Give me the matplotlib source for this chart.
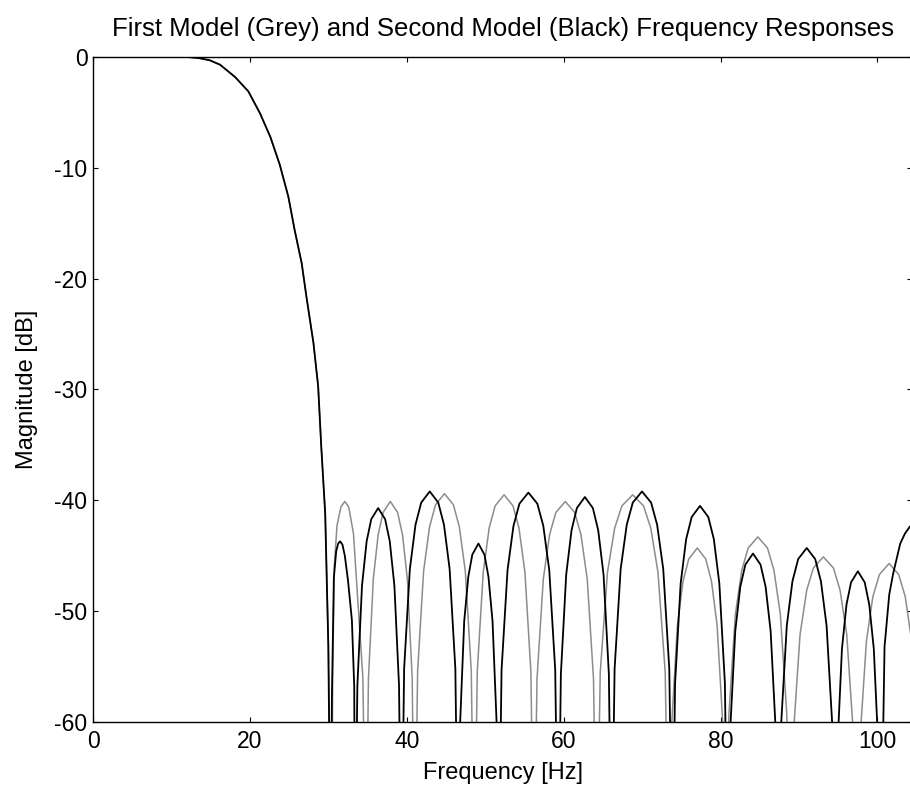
import matplotlib
matplotlib.use("Agg")
import matplotlib.pyplot as plt

# passband, shared by both models (Hz, dB)
pass_f = [3.7, 6.0, 8.0, 10.0, 12.0, 13.5, 14.9, 16.2, 18.1, 19.8, 21.3, 22.6,
          23.8, 24.9, 25.7, 26.6, 27.2, 28.1, 28.7, 29.1, 29.6, 30.0]
pass_db = [0.0, 0.0, 0.0, 0.0, 0.0, -0.1, -0.3, -0.7, -1.8, -3.1, -5.1, -7.2,
           -9.7, -12.6, -15.6, -18.6, -21.6, -25.8, -29.7, -35.2, -41.2, -53.2]

# first model (grey) stopband lobes, one row per lobe
grey_f = [30.4, 30.55, 30.75, 31.1, 31.6, 32.1, 32.6, 33.2, 33.8, 34.4,
          34.8, 35.11, 35.73, 36.35, 36.97, 37.9, 38.83, 39.45, 40.07, 40.69,
          41.0, 41.38, 42.14, 42.9, 43.66, 44.8, 45.94, 46.7, 47.46, 48.22,
          48.6, 48.98, 49.74, 50.5, 51.26, 52.4, 53.54, 54.3, 55.06, 55.82,
          56.2, 56.6, 57.4, 58.2, 59.0, 60.2, 61.4, 62.2, 63.0, 63.8,
          64.2, 64.66, 65.58, 66.5, 67.42, 68.8, 70.18, 71.1, 72.02, 72.94,
          73.4, 73.76, 74.49, 75.21, 75.94, 77.03, 78.11, 78.84, 79.56, 80.29,
          80.65, 81.06, 81.88, 82.7, 83.52, 84.75, 85.98, 86.8, 87.62, 88.44,
          88.85, 89.28, 90.13, 90.98, 91.83, 93.1, 94.38, 95.23, 96.08, 96.93,
          97.35, 97.76, 98.59, 99.41, 100.24, 101.48, 102.71, 103.54, 104.36,
          105.19, 105.6]
grey_db = [-75, -56.0, -46.0, -42.3, -40.6, -40.1, -40.6, -43.0, -49.5, -56.0,
           -75, -56.1, -47.1, -43.1, -41.1, -40.1, -41.1, -43.1, -47.1, -56.1,
           -75, -55.4, -46.4, -42.4, -40.4, -39.4, -40.4, -42.4, -46.4, -55.4,
           -75, -55.5, -46.5, -42.5, -40.5, -39.5, -40.5, -42.5, -46.5, -55.5,
           -75, -56.1, -47.1, -43.1, -41.1, -40.1, -41.1, -43.1, -47.1, -56.1,
           -75, -55.5, -46.5, -42.5, -40.5, -39.5, -40.5, -42.5, -46.5, -55.5,
           -75, -60.3, -51.3, -47.3, -45.3, -44.3, -45.3, -47.3, -51.3, -60.3,
           -75, -59.3, -50.3, -46.3, -44.3, -43.3, -44.3, -46.3, -50.3, -59.3,
           -75, -61.1, -52.1, -48.1, -46.1, -45.1, -46.1, -48.1, -52.1, -61.1,
           -75, -61.7, -52.7, -48.7, -46.7, -45.7, -46.7, -48.7, -52.7,
           -61.7, -75]

# second model (black) stopband lobes, one row per lobe
black_f = [30.3, 30.45, 30.7, 31.0, 31.25, 31.5, 31.8, 32.1, 32.5, 33.0, 33.3,
           33.4, 33.7, 34.29, 34.88, 35.47, 36.35, 37.24, 37.83, 38.42, 39.01,
           39.3, 39.66, 40.39, 41.11, 41.84, 42.93, 44.01, 44.74, 45.46, 46.19,
           46.55, 46.81, 47.32, 47.84, 48.35, 49.13, 49.9, 50.41, 50.93, 51.44,
           51.7, 52.08, 52.84, 53.6, 54.36, 55.5, 56.64, 57.4, 58.16, 58.92,
           59.3, 59.64, 60.32, 61.0, 61.68, 62.7, 63.72, 64.4, 65.08, 65.76,
           66.1, 66.49, 67.26, 68.04, 68.81, 69.98, 71.14, 71.91, 72.69, 73.46,
           73.85, 74.2, 74.91, 75.61, 76.32, 77.38, 78.43, 79.14, 79.84, 80.55,
           80.9, 81.22, 81.87, 82.51, 83.16, 84.13, 85.09, 85.74, 86.38, 87.03,
           87.35, 87.71, 88.44, 89.16, 89.89, 90.98, 92.06, 92.79, 93.51, 94.24,
           94.6, 94.89, 95.47, 96.05, 96.63, 97.5, 98.37, 98.95, 99.53, 100.11,
           100.4, 100.9, 101.5, 102.0, 102.9, 103.5, 104.1, 104.8]
black_db = [-75, -58.0, -47.0, -44.6, -43.9, -43.7, -44.0, -45.0, -47.2, -50.8, -56.8,
            -75, -56.7, -47.7, -43.7, -41.7, -40.7, -41.7, -43.7, -47.7, -56.7,
            -75, -55.2, -46.2, -42.2, -40.2, -39.2, -40.2, -42.2, -46.2, -55.2,
            -75, -59.9, -50.9, -46.9, -44.9, -43.9, -44.9, -46.9, -50.9, -59.9,
            -75, -55.3, -46.3, -42.3, -40.3, -39.3, -40.3, -42.3, -46.3, -55.3,
            -75, -55.7, -46.7, -42.7, -40.7, -39.7, -40.7, -42.7, -46.7, -55.7,
            -75, -55.2, -46.2, -42.2, -40.2, -39.2, -40.2, -42.2, -46.2, -55.2,
            -75, -56.5, -47.5, -43.5, -41.5, -40.5, -41.5, -43.5, -47.5, -56.5,
            -75, -60.8, -51.8, -47.8, -45.8, -44.8, -45.8, -47.8, -51.8, -60.8,
            -75, -60.3, -51.3, -47.3, -45.3, -44.3, -45.3, -47.3, -51.3, -60.3,
            -75, -62.4, -53.4, -49.4, -47.4, -46.4, -47.4, -49.4, -53.4, -62.4,
            -75, -53.2, -48.5, -46.6, -43.9, -43.0, -42.4, -41.9]

x_ticks = [0, 20, 40, 60, 80, 100]
y_ticks = [-60, -50, -40, -30, -20, -10, 0]

plt.rcParams["font.family"] = ["Liberation Sans", "DejaVu Sans"]
plt.rcParams["axes.unicode_minus"] = False

fig = plt.figure(figsize=(9.1, 7.97), dpi=100)
ax = fig.add_axes([0.1022, 0.0941, 0.9, 0.8344])

ax.plot(pass_f + grey_f, pass_db + grey_db, color="#8c8c8c", lw=1.1)
ax.plot(pass_f + black_f, pass_db + black_db, color="black", lw=1.3)

ax.set_xlim(0, 104.4)
ax.set_ylim(-60, 0)
ax.set_xticks(x_ticks)
ax.set_yticks(y_ticks)
ax.tick_params(direction="in", length=3.6, width=0.8, top=True, right=True,
               labelsize=16.5)
ax.tick_params(axis="x", pad=6)
ax.tick_params(axis="y", pad=4)
for s in ax.spines.values():
    s.set_linewidth(1.0)

ax.set_title("First Model (Grey) and Second Model (Black) Frequency Responses",
             fontsize=18.5, pad=15)
ax.set_xlabel("Frequency [Hz]", fontsize=17, labelpad=6)
ax.set_ylabel("Magnitude [dB]", fontsize=17, labelpad=12)

fig.savefig("out.png", dpi=100)
